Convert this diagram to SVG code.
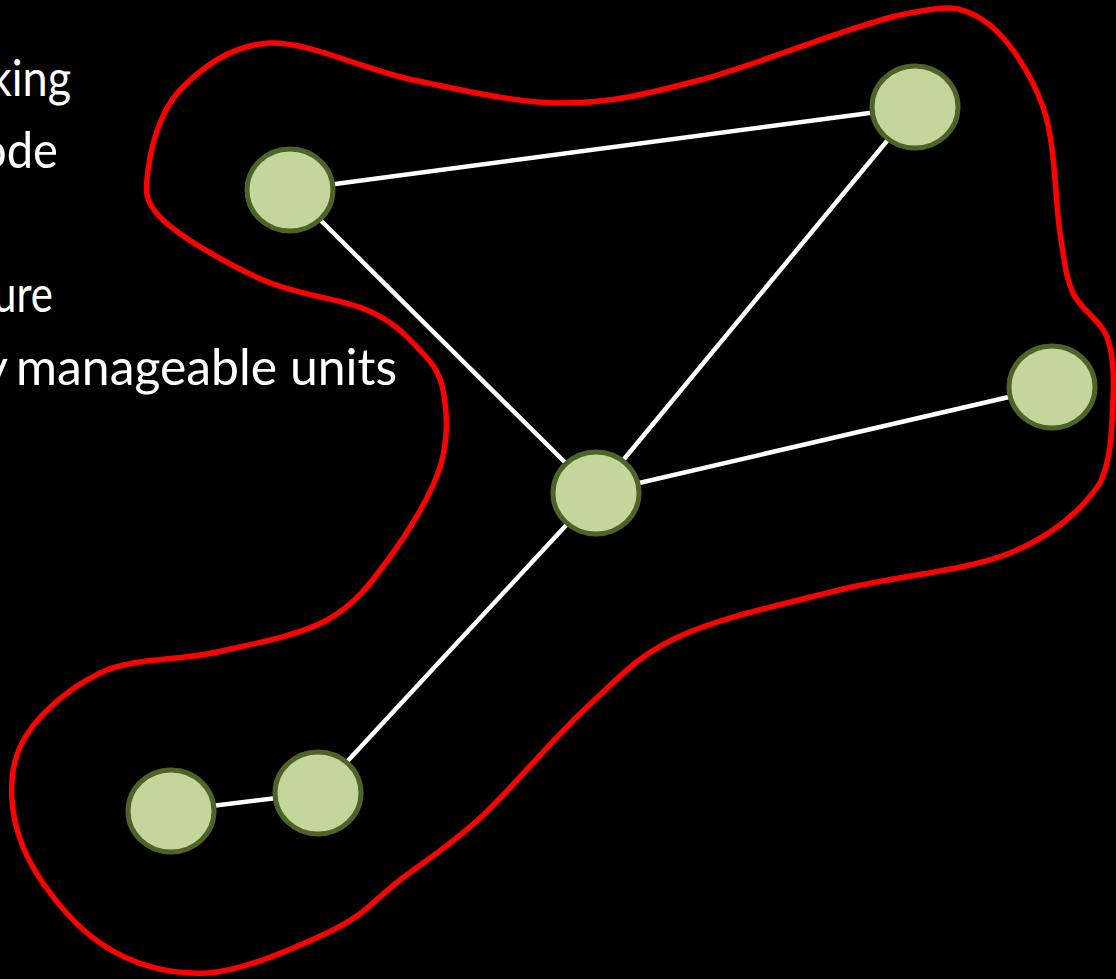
<svg xmlns="http://www.w3.org/2000/svg" width="1116" height="979" viewBox="0 0 1116 979">
  <style>
    .bg { fill: #000000; }
    .caption { fill: #FFFFFF; font-family: "Lato", "Open Sans", "Liberation Sans", sans-serif; font-size: 51px; }
    .edge { stroke: #FFFFFF; stroke-width: 4.5; fill: none; }
    .node { fill: #C3D69B; stroke: #4F6228; stroke-width: 5; }
    .cluster { fill: none; stroke: #FF0000; stroke-width: 5.5; stroke-linejoin: round; }
  </style>

  <rect class="bg" x="0" y="0" width="1116" height="979"/>

  <!-- bullet text, running in from beyond the left edge -->
  <g id="text">
    <text class="caption" x="-11" y="96" textLength="82" lengthAdjust="spacingAndGlyphs">king</text>
    <text class="caption" x="-20" y="168" textLength="78" lengthAdjust="spacingAndGlyphs">ode</text>
    <text class="caption" x="-7" y="312" textLength="60" lengthAdjust="spacingAndGlyphs">ure</text>
    <text class="caption" x="8" y="385" text-anchor="end">y</text>
    <text class="caption" x="16" y="385" textLength="381" lengthAdjust="spacingAndGlyphs">manageable units</text>
  </g>

  <!-- red outline around the cluster -->
  <g id="cluster">
    <path class="cluster" d="M148,170
      C150.8,148.3 159.7,111.2 180,90
      C200.3,68.8 231.2,44.7 270,43
      C308.8,41.3 364.2,70 413,80
      C461.8,90 515.2,103 563,103
      C610.8,103 643.8,94.7 700,80
      C756.2,65.3 852.8,25 900,15
      C947.2,5 959.2,4.7 983,20
      C1006.8,35.3 1030.2,71.5 1043,107
      C1055.8,142.5 1055,202 1060,233
      C1065,264 1065.2,275.7 1073,293
      C1080.8,310.3 1100.3,319.2 1107,337
      C1113.7,354.8 1114.2,375.7 1113,400
      C1111.8,424.3 1112,458 1100,483
      C1082.8,508.5 1053.5,535.2 1010,553
      C966.5,570.8 894.3,576 839,590
      C783.7,604 720,617.5 678,637
      C636,656.5 619.8,677 587,707
      C554.2,737 512.2,788.2 481,817
      C449.8,845.8 424.7,861.2 400,880
      C375.3,898.8 365.2,914.5 333,930
      C300.8,945.5 245.8,970.8 207,973
      C168.2,975.2 130.7,964 100,943
      C69.3,922 36.3,879.7 23,847
      C9.7,814.3 7.2,776 20,747
      C32.8,718 67.2,688.8 100,673
      C132.8,657.2 179.2,660.8 217,652
      C254.8,643.2 298.2,635.8 327,620
      C355.8,604.2 371.2,582.5 390,557
      C408.8,531.5 431.2,494.8 440,467
      C448.8,439.2 446.8,410 443,390
      C439.2,370 429.7,360.3 417,347
      C404.3,333.7 392.7,321.2 367,310
      C341.3,298.8 297,295 263,280
      C229,265 182.2,238.3 163,220
      C143.8,201.7 145.2,191.7 148,170 Z"/>
  </g>

  <!-- connectors -->
  <g id="edges">
    <line class="edge" x1="290" y1="190" x2="915" y2="107"/>
    <line class="edge" x1="290" y1="190" x2="596" y2="493"/>
    <line class="edge" x1="915" y1="107" x2="596" y2="493"/>
    <line class="edge" x1="596" y1="493" x2="1052" y2="387"/>
    <line class="edge" x1="596" y1="493" x2="318" y2="793"/>
    <line class="edge" x1="318" y1="793" x2="171" y2="811"/>
  </g>

  <!-- nodes -->
  <g id="node-a"><ellipse class="node" cx="290" cy="190" rx="43" ry="41"/></g>
  <g id="node-b"><ellipse class="node" cx="915" cy="107" rx="43" ry="41"/></g>
  <g id="node-c"><ellipse class="node" cx="1052" cy="387" rx="43" ry="41"/></g>
  <g id="node-d"><ellipse class="node" cx="596" cy="493" rx="43" ry="41"/></g>
  <g id="node-e"><ellipse class="node" cx="318" cy="793" rx="43" ry="41"/></g>
  <g id="node-f"><ellipse class="node" cx="171" cy="811" rx="43" ry="41"/></g>
</svg>
